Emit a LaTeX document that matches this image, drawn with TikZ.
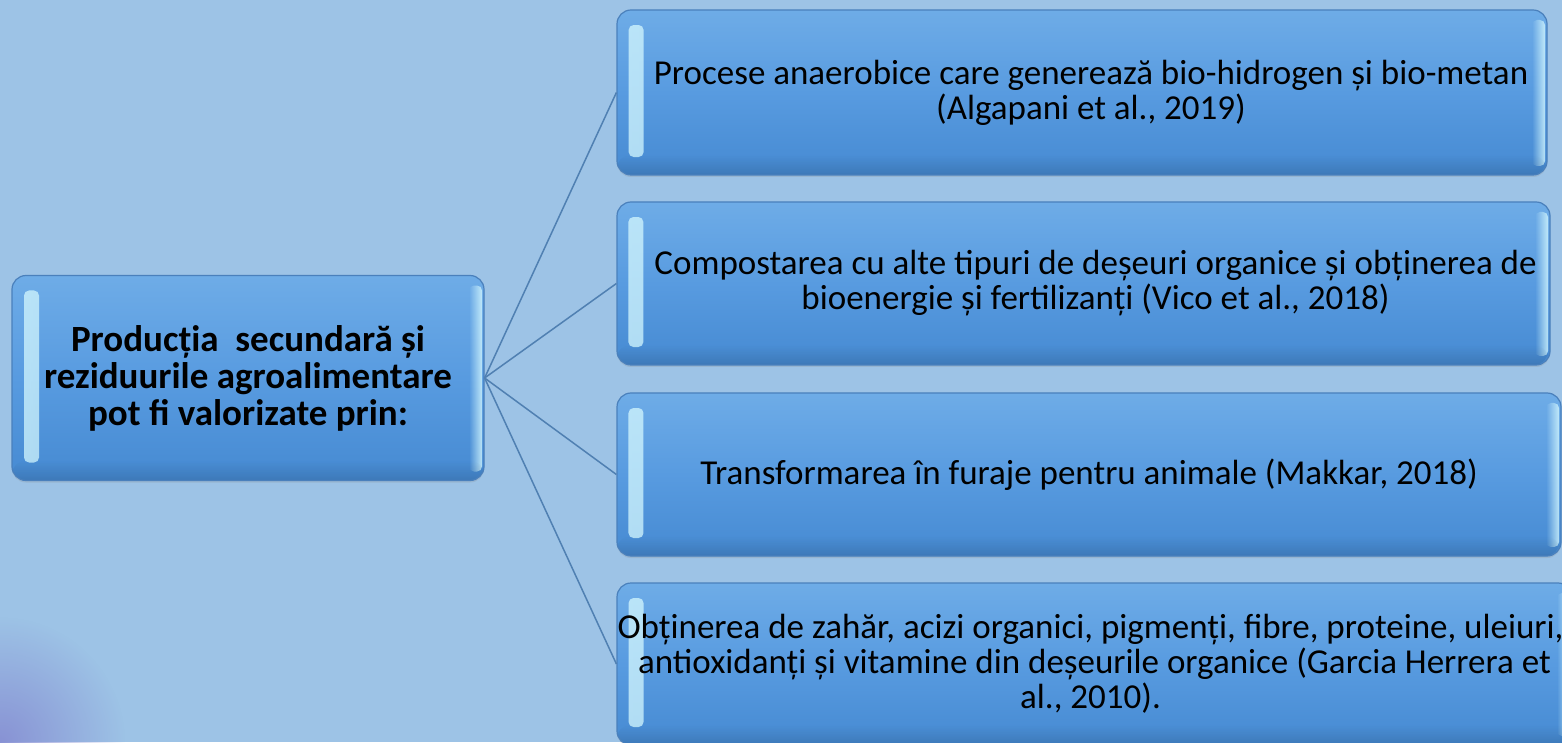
\documentclass[tikz,border=0pt]{standalone}
\usepackage{fontspec}
\setmainfont{Carlito}
\usetikzlibrary{fadings,shadows}
\definecolor{bg}{RGB}{157,195,230}
\definecolor{boxtop}{RGB}{110,172,231}
\definecolor{boxmid}{RGB}{88,155,224}
\definecolor{boxbot}{RGB}{70,138,210}
\definecolor{boxline}{RGB}{74,128,188}
\definecolor{glow}{RGB}{215,250,255}
\definecolor{conn}{RGB}{80,128,178}
\definecolor{purp}{RGB}{136,146,212}
\tikzfading[name=cornerfade, inner color=transparent!0, outer color=transparent!100]
\tikzset{
  bevelbox/.style={draw=boxline, line width=1.2pt, rounded corners=14pt,
    top color=boxtop, bottom color=boxbot, middle color=boxmid,
    inner sep=0pt, align=center, text=black,
    font=\fontsize{35}{35}\selectfont,
    drop shadow={opacity=0.2, shadow xshift=0pt, shadow yshift=-2pt},
    path picture={
      \fill[glow, opacity=0.75, path fading=east, rounded corners=5pt]
        ([xshift=12pt,yshift=18pt]path picture bounding box.south west) rectangle
        ([xshift=27pt,yshift=-15pt]path picture bounding box.north west);
      \fill[glow, opacity=0.8, path fading=west, rounded corners=5pt]
        ([xshift=-2pt,yshift=9pt]path picture bounding box.south east) rectangle
        ([xshift=-15pt,yshift=-10pt]path picture bounding box.north east);
      \fill[black, opacity=0.12, path fading=north]
        (path picture bounding box.south west) rectangle
        ([yshift=20pt]path picture bounding box.south east);
    }},
  link/.style={draw=conn, line width=1.5pt}
}
\begin{document}
\begin{tikzpicture}[x=1pt,y=1pt]
\fill[bg] (0,0) rectangle (1562,742);
\useasboundingbox (0,0) rectangle (1562,742);
\begin{scope}
\clip (0,0) rectangle (1562,742);
\fill[purp, path fading=cornerfade] (0,0) circle (125);

\node[bevelbox, minimum width=472pt, minimum height=205pt,
      font=\bfseries\fontsize{37}{37}\selectfont] (src) at (248,364)
  {Producția\ \ secundară și\\reziduurile agroalimentare\\pot fi valorizate prin:};

\node[bevelbox, minimum width=930pt, minimum height=165pt] (b1) at (1082,649.5)
  {\hspace*{18pt}Procese anaerobice care generează bio-hidrogen și bio-metan\\\hspace*{18pt}(Algapani et al., 2019)};
\node[bevelbox, minimum width=933pt, minimum height=163pt] (b2) at (1083.5,458.5)
  {\hspace*{24pt}Compostarea cu alte tipuri de deșeuri organice și obținerea de\\\hspace*{24pt}bioenergie și fertilizanți (Vico et al., 2018)};
\node[bevelbox, minimum width=944pt, minimum height=163pt] (b3) at (1089,267.5)
  {Transformarea în furaje pentru animale (Makkar, 2018)};
\node[bevelbox, minimum width=955pt, minimum height=162pt] (b4) at (1094.5,78)
  {Obținerea de zahăr, acizi organici, pigmenți, fibre, proteine, uleiuri,\hspace*{8pt}\\antioxidanți și vitamine din deșeurile organice (Garcia Herrera et\hspace*{8pt}\\al., 2010).\hspace*{8pt}};

\draw[link] (src.east) -- (b1.west);
\draw[link] (src.east) -- (b2.west);
\draw[link] (src.east) -- (b3.west);
\draw[link] (src.east) -- (b4.west);
\end{scope}
\end{tikzpicture}
\end{document}
